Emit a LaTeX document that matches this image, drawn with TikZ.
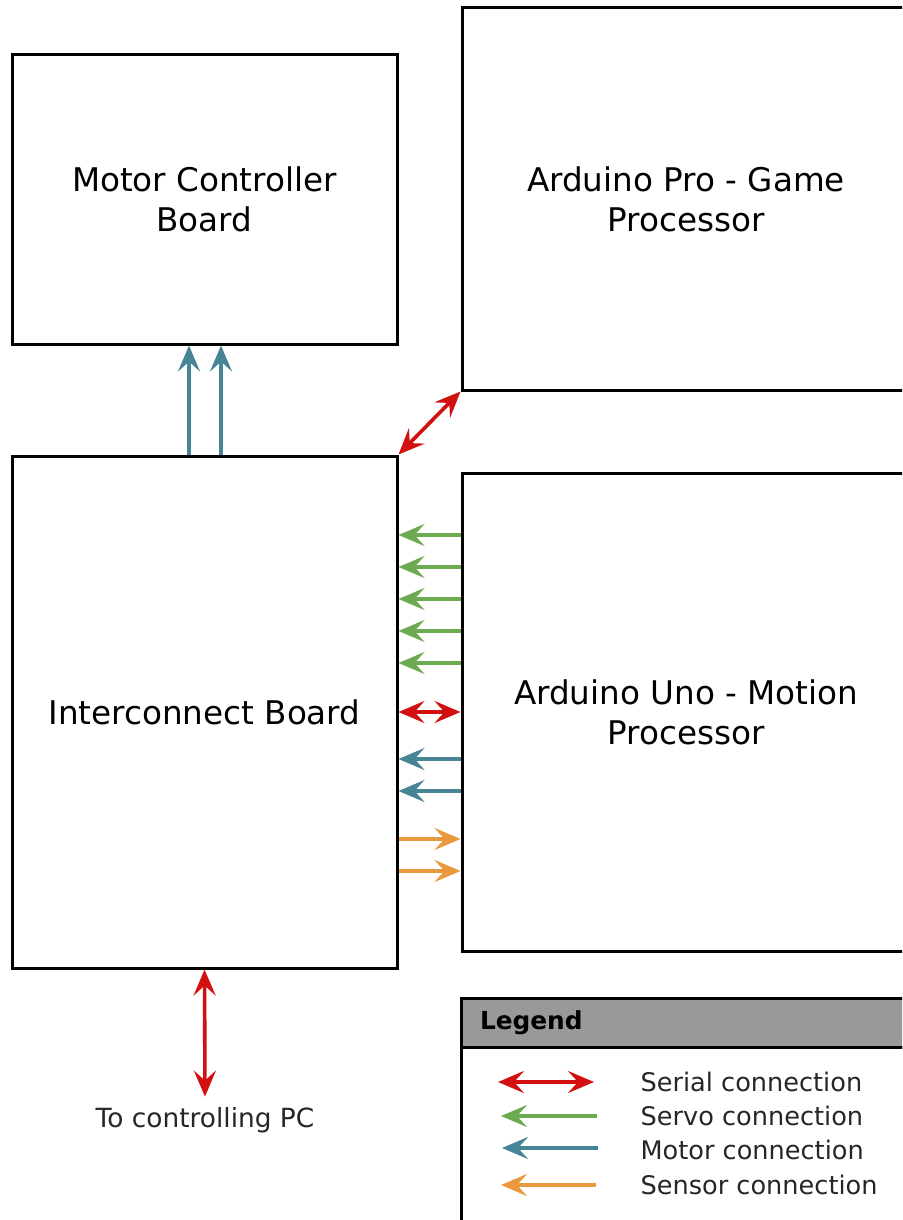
\documentclass[tikz,border=0pt]{standalone}
\usepackage{fontspec}
\setmainfont{DejaVu Sans}
\usepackage{tikz}
\usetikzlibrary{positioning}
\usetikzlibrary{arrows.meta}
\definecolor{serialred}{RGB}{210,16,16}
\definecolor{servogreen}{RGB}{108,170,80}
\definecolor{motorteal}{RGB}{70,132,150}
\definecolor{sensororange}{RGB}{234,152,62}
\definecolor{legendgray}{RGB}{153,153,153}

\begin{document}
\begin{tikzpicture}[
            x = 0.5pt, y = -0.5pt, % one unit per pixel, y downwards
            > = {Stealth[length=13pt,width=11pt,inset=5pt]}, % arrow head style
            semithick % line style
        ]

        \tikzstyle{board}=[
            draw,
            line width = 1.5pt,
            inner sep = 0pt,
            align = center,
            font = \fontsize{16.3pt}{20pt}\selectfont
        ]
        \tikzstyle{legtext}=[
            text = black!85,
            inner sep = 0pt,
            font = \fontsize{12.8pt}{15pt}\selectfont
        ]
        \tikzstyle{serial}=[serialred, line width = 1.8pt]
        \tikzstyle{servo}=[servogreen, line width = 1.8pt]
        \tikzstyle{motor}=[motorteal, line width = 1.8pt]
        \tikzstyle{sensor}=[sensororange, line width = 1.8pt]

        \useasboundingbox (0,0) rectangle (902,1220);
        \clip (0,0) rectangle (902,1220);

        % boards
        \node[board, minimum width=192.5pt, minimum height=144.5pt] (M) at (204.5,199.5) {Motor Controller\\Board};
        \node[board, minimum width=192.5pt, minimum height=256pt] (I) [below=54.5pt of M] {Interconnect Board};
        \node[board, minimum width=224pt, minimum height=239pt] (U) [right=31pt of I] {Arduino Uno - Motion\\Processor};
        \node[board, minimum width=224pt, minimum height=191pt] (G) [above=40pt of U] {Arduino Pro - Game\\Processor};

        % interconnect to motor controller
        \foreach \x in {189,221} {
            \coordinate (v) at (\x,0);
            \draw[motor,->] (I.north -| v) -- (M.south -| v);
        }

        % interconnect to game processor
        \draw[serial,<->] (I.north east) -- (G.south west);

        % motion processor to interconnect
        \foreach \y in {535,567,599,631,663} {
            \coordinate (h) at (0,\y);
            \draw[servo,->] (U.west |- h) -- (I.east |- h);
        }
        \draw[serial,<->] (U.west) -- (I.east);
        \foreach \y in {759,791} {
            \coordinate (h) at (0,\y);
            \draw[motor,->] (U.west |- h) -- (I.east |- h);
        }
        \foreach \y in {839,871} {
            \coordinate (h) at (0,\y);
            \draw[sensor,->] (I.east |- h) -- (U.west |- h);
        }

        % to the pc
        \node[legtext, font=\fontsize{13.2pt}{15pt}\selectfont] (P) at (205,1120) {To controlling PC};
        \draw[serial,<->] (I.south) -- ([yshift=5pt]P.north);

        % legend
        \node[draw, line width=1.5pt, outer sep=0pt, fill=legendgray, anchor=north west, minimum width=227pt, minimum height=24.5pt,
              text width=208pt, inner xsep=9.5pt, inner ysep=0pt, align=left,
              font=\fontsize{12.4pt}{15pt}\selectfont\bfseries] (L) at (461,998) {Legend};
        \node[draw, line width=1.5pt, outer sep=0pt, anchor=north, minimum width=227pt, minimum height=100pt] (LB) at (L.south) {};

        \node[legtext, anchor=west] (T1) at (640,1082) {Serial connection};
        \node[legtext, anchor=west] (T2) at (640,1116) {Servo connection};
        \node[legtext, anchor=west] (T3) at (640,1150) {Motor connection};
        \node[legtext, anchor=west] (T4) at (640,1185) {Sensor connection};
        \coordinate (A1) at (498,1082); \coordinate (B1) at (594,1082);
        \coordinate (A2) at (501,1116); \coordinate (B2) at (597,1116);
        \coordinate (A3) at (502,1148); \coordinate (B3) at (598,1148);
        \coordinate (A4) at (501,1185); \coordinate (B4) at (596,1185);
        \draw[serial,<->] (A1) -- (B1);
        \draw[servo,<-] (A2) -- (B2);
        \draw[motor,<-] (A3) -- (B3);
        \draw[sensor,<-] (A4) -- (B4);

\end{tikzpicture}
\end{document}
